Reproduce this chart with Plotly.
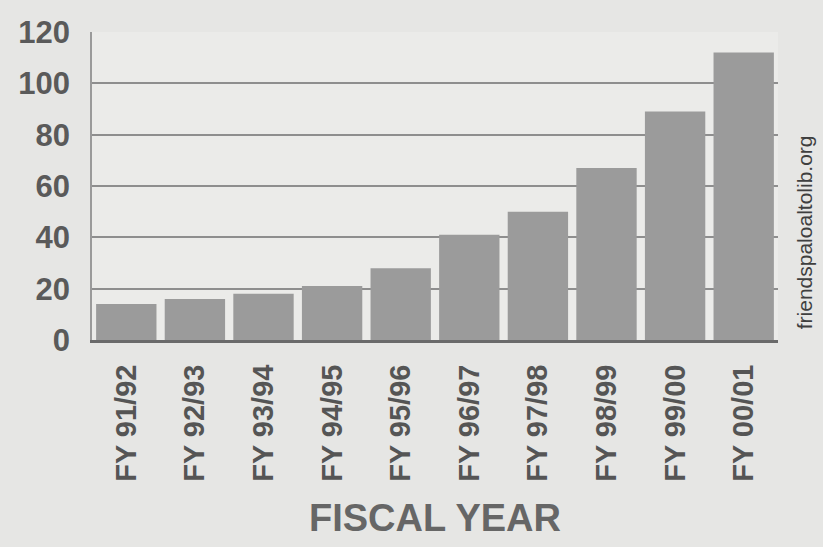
import plotly.graph_objects as go

years = ["FY 91/92", "FY 92/93", "FY 93/94", "FY 94/95", "FY 95/96",
         "FY 96/97", "FY 97/98", "FY 98/99", "FY 99/00", "FY 00/01"]
values = [14, 16, 18, 21, 28, 41, 50, 67, 89, 112]
y_ticks = [0, 20, 40, 60, 80, 100, 120]

FONT = "Liberation Sans, Arial, sans-serif"

fig = go.Figure(go.Bar(
    x=years, y=values,
    marker=dict(color="#9b9b9b", line=dict(width=0)),
))

fig.update_layout(
    width=823, height=547,
    margin=dict(l=92, r=45, t=32, b=207),
    paper_bgcolor="#e6e6e4",
    plot_bgcolor="#ebebe9",
    bargap=0.12,
    showlegend=False,
    font=dict(family=FONT, color="#555555"),
    xaxis=dict(
        tickangle=-90,
        tickfont=dict(size=29, weight="bold", color="#555555"),
        showgrid=False,
        showline=True, linecolor="#6a6a6a", linewidth=3,
        ticks="", ticklabelstandoff=10,
        title=dict(text="FISCAL YEAR", font=dict(size=38, weight="bold", color="#666666"), standoff=24),
    ),
    yaxis=dict(
        range=[0, 120],
        tickvals=y_ticks,
        tickfont=dict(size=31, weight="bold", color="#5a5a5a"),
        showgrid=True, gridcolor="#8e8e8e", gridwidth=1.5,
        showline=True, linecolor="#9a9a9a", linewidth=1.5,
        zeroline=False,
        ticks="", ticklabelstandoff=14,
    ),
)

fig.add_annotation(
    text="friendspaloaltolib.org", textangle=-90,
    xref="paper", yref="paper", x=1.038, y=0.35, xanchor="center", yanchor="middle",
    showarrow=False, font=dict(size=21, color="#3f3f3f", family=FONT),
)

fig.write_html(
    "out.html",
    config={"displayModeBar": False},
    post_script="document.body.style.margin='0';document.body.style.padding='0';document.body.style.overflow='hidden';document.body.style.background='#e6e6e4';",
)
